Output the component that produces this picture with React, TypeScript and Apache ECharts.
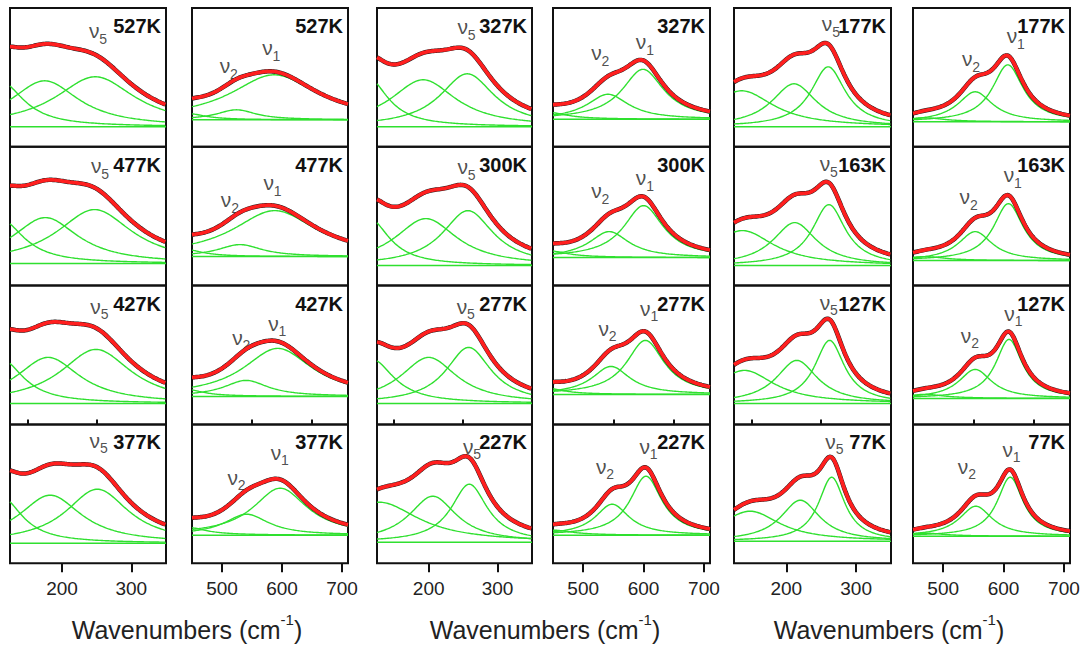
import React, { useEffect, useRef } from "react";
import * as echarts from "echarts";

// Temperatures, per group (column pair) top to bottom
const temps = ["527K", "477K", "427K", "377K", "327K", "300K", "277K", "227K", "177K", "163K", "127K", "77K"];

// Low-frequency region (nu5): baseline level and fitted peaks [centre cm-1, HWHM cm-1, height]
const lowBaseline = [20, 22, 21, 20, 20, 20, 21, 21, 20, 20, 21, 22];
const lowPeaks = [
  [[112, 40, 45], [175, 60, 46], [248, 70, 50]],
  [[112, 40, 44], [176, 58, 46], [247, 66, 54]],
  [[113, 38, 44], [180, 56, 46], [249, 62, 54]],
  [[113, 36, 46], [183, 55, 48], [251, 55, 54]],
  [[112, 35, 49], [192, 58, 47], [256, 48, 53]],
  [[114, 35, 47], [196, 55, 47], [257, 45, 55]],
  [[118, 38, 44], [200, 50, 46], [258, 40, 56]],
  [[128, 70, 40], [206, 42, 46], [259, 32, 58]],
  [[136, 56, 36], [211, 39, 43], [260, 30, 60]],
  [[137, 55, 35], [212, 38, 43], [261, 29, 61]],
  [[140, 52, 33], [215, 36, 43], [262, 26, 63]],
  [[148, 52, 30], [220, 34, 41], [265, 23, 64]],
];

// High-frequency region (nu1, nu2)
const highBaseline = [27, 29, 28, 28, 27.5, 28, 30, 28, 25, 25, 26, 27];
const highPeaks = [
  [[587, 88, 45], [524, 40, 10], [445, 35, 6]],
  [[588, 85, 46], [530, 45, 12], [440, 35, 7]],
  [[593, 70, 48], [540, 45, 16], [440, 35, 7]],
  [[597, 55, 47], [541, 45, 21], [440, 40, 8]],
  [[599, 42, 50], [541, 42, 25], [440, 40, 7]],
  [[600, 40, 52], [543, 40, 26], [440, 40, 7]],
  [[603, 38, 54], [546, 38, 28], [440, 35, 6]],
  [[604, 32, 59], [548, 34, 31], [450, 40, 5]],
  [[607, 31, 57], [553, 35, 30], [470, 40, 4]],
  [[608, 30, 57], [553, 34, 29], [470, 40, 4]],
  [[609, 27, 59], [553, 33, 29], [470, 40, 4]],
  [[611, 26, 59], [554, 33, 30], [470, 40, 3]],
];

// Mode label anchors [cm-1, intensity]
const nu5Pos = [[250, 111], [253, 115], [252, 113], [251, 118], [253, 115], [253, 114], [252, 113], [261, 112], [262, 118], [259, 117], [259, 117], [267, 117]];
const nu2Pos = [[509, 76], [511, 81], [530, 82], [522, 81], [526, 89], [526, 90], [538, 91], [534, 92], [544, 83], [540, 84], [542, 84], [537, 92]];
const nu1Pos = [[580, 94], [582, 98], [590, 96], [594, 106], [600, 100], [600, 103], [607, 111], [606, 112], [618, 106], [613, 106], [614, 106], [611, 109]];

const lowRange = [125, 350];
const highRange = [450, 710];
const lowMajorTicks = [200, 300];
const lowMinorTicks = [150, 250];
const highMajorTicks = [500, 600, 700];
const highMinorTicks = [550, 650];
const axisTitleX = [187, 545, 889];

const colLeft = [10, 192, 377, 553, 734, 913];
const colWidth = [156, 156, 155, 157, 157, 157];
const ROW_TOP = 8;
const ROW_H = 138.8;
const Y_MAX = 138.8;
const FONT = "'Liberation Sans', Arial, sans-serif";

const GREEN = "#2fe02f";
const RED = "#ff1f1f";

function lor(x: number, p: number[]) {
  const d = (x - p[0]) / p[1];
  return p[2] / (1 + d * d);
}
function samples(min: number, max: number, step: number) {
  const out: number[] = [];
  for (let x = min; x <= max + 1e-9; x += step) out.push(x);
  return out;
}

function modeLabels(pos: number[], digit: string) {
  return [
    {
      value: pos,
      label: {
        show: true,
        position: "inside",
        formatter: "ν",
        offset: [-2.5, -5],
        fontSize: 21,
        color: "#222",
        fontFamily: FONT,
      },
    },
    {
      value: pos,
      label: {
        show: true,
        position: "inside",
        formatter: digit,
        offset: [6.5, 3],
        fontSize: 14,
        color: "#222",
        fontFamily: FONT,
      },
    },
  ];
}

function buildOption() {
  const grids: any[] = [];
  const xAxes: any[] = [];
  const yAxes: any[] = [];
  const series: any[] = [];
  const graphics: any[] = [];
  const minorAxes: any[] = [];

  for (let r = 0; r < 4; r++) {
    for (let c = 0; c < 6; c++) {
      const gi = r * 6 + c;
      const g = Math.floor(c / 2);
      const isLow = c % 2 === 0;
      const idx = g * 4 + r;
      const range = isLow ? lowRange : highRange;
      const top = ROW_TOP + r * ROW_H;
      const bottomRow = r === 3;
      grids.push({
        left: colLeft[c],
        top,
        width: colWidth[c],
        height: ROW_H,
        show: true,
        borderColor: "#111",
        borderWidth: 2,
        backgroundColor: "transparent",
        outerBoundsMode: "none",
      });
      xAxes.push({
        type: "value",
        gridIndex: gi,
        min: range[0],
        max: range[1],
        axisLine: { show: false },
        splitLine: { show: false },
        axisTick: {
          show: bottomRow,
          customValues: isLow ? lowMajorTicks : highMajorTicks,
          length: 9,
          lineStyle: { color: "#111", width: 2 },
        },
        axisLabel: {
          show: bottomRow,
          customValues: isLow ? lowMajorTicks : highMajorTicks,
          fontSize: 19,
          color: "#222",
          fontFamily: FONT,
          margin: 16,
        },
      });
      if (bottomRow) {
        minorAxes.push({
          type: "value",
          gridIndex: gi,
          min: range[0],
          max: range[1],
          axisLine: { show: false },
          splitLine: { show: false },
          axisTick: {
            show: true,
            customValues: isLow ? lowMinorTicks : highMinorTicks,
            length: 5,
            lineStyle: { color: "#111", width: 2 },
          },
          axisLabel: { show: false },
        });
      }
      yAxes.push({
        type: "value",
        gridIndex: gi,
        min: 0,
        max: Y_MAX,
        show: false,
      });

      const b = isLow ? lowBaseline[idx] : highBaseline[idx];
      const peaks = isLow ? lowPeaks[idx] : highPeaks[idx];
      const xs = samples(range[0], range[1], 2);
      const common = {
        type: "line",
        xAxisIndex: gi,
        yAxisIndex: gi,
        showSymbol: false,
        silent: true,
        animation: false,
      };
      series.push({
        ...common,
        data: [[range[0], b], [range[1], b]],
        lineStyle: { color: GREEN, width: 1.5 },
      });
      peaks.forEach((p) => {
        series.push({
          ...common,
          data: xs.map((x) => [x, b + lor(x, p)]),
          lineStyle: { color: GREEN, width: 1.4 },
        });
      });
      const sum = xs.map((x) => [x, b + peaks.reduce((s, p) => s + lor(x, p), 0)]);
      series.push({ ...common, data: sum, lineStyle: { color: "#1c1c1c", width: 4.5 } });
      series.push({ ...common, data: sum, lineStyle: { color: RED, width: 3.7 } });

      const labelData = isLow
        ? modeLabels(nu5Pos[idx], "5")
        : [...modeLabels(nu2Pos[idx], "2"), ...modeLabels(nu1Pos[idx], "1")];
      series.push({
        type: "scatter",
        xAxisIndex: gi,
        yAxisIndex: gi,
        silent: true,
        symbolSize: 1,
        itemStyle: { color: "rgba(0,0,0,0)" },
        data: labelData,
      });

      graphics.push({
        type: "text",
        x: colLeft[c] + colWidth[c] - 5,
        y: top + 18,
        style: {
          text: temps[idx],
          align: "right",
          verticalAlign: "middle",
          fontSize: 20,
          fontWeight: "bold",
          fill: "#111",
          fontFamily: FONT,
        },
      });
    }
  }

  axisTitleX.forEach((x) => {
    graphics.push({
      type: "text",
      x,
      y: 627,
      style: {
        text: "{a|Wavenumbers (cm}{b|-1}{a|)}",
        align: "center",
        verticalAlign: "middle",
        rich: {
          a: { fontSize: 25, lineHeight: 30, verticalAlign: "bottom", fill: "#222", fontFamily: FONT },
          b: { fontSize: 15, lineHeight: 20, verticalAlign: "top", fill: "#222", fontFamily: FONT },
        },
      },
    });
  });

  return {
    animation: false,
    backgroundColor: "#ffffff",
    textStyle: { fontFamily: FONT },
    grid: grids,
    xAxis: [...xAxes, ...minorAxes],
    yAxis: yAxes,
    series,
    graphic: graphics,
  };
}

export default function App() {
  const ref = useRef<HTMLDivElement>(null);
  useEffect(() => {
    if (!ref.current) return;
    const chart = echarts.init(ref.current, undefined, { renderer: "svg" });
    chart.setOption(buildOption() as any);
    return () => chart.dispose();
  }, []);
  return (
    <div
      ref={ref}
      style={{ position: "absolute", left: 0, top: 0, width: 1085, height: 646, background: "#fff" }}
    />
  );
}
